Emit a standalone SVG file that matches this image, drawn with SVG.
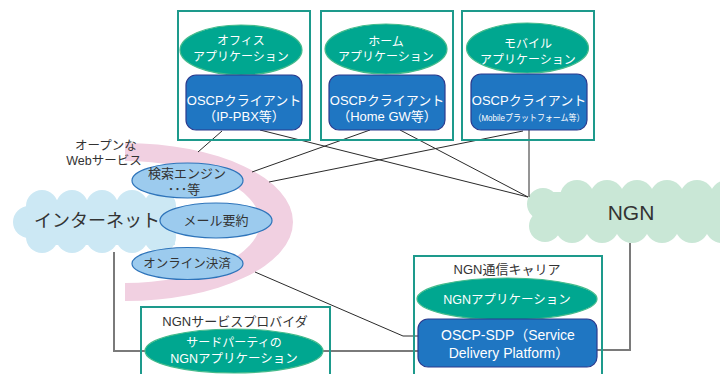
<svg xmlns="http://www.w3.org/2000/svg" width="720" height="374" viewBox="0 0 720 374">
<style>
text{font-family:"Liberation Sans","Noto Sans CJK JP",sans-serif;text-anchor:middle}
.frame{fill:none;stroke:#1d9a8c;stroke-width:2}
.app{fill:#00a790;stroke:#45bb8c;stroke-width:1.2}
.cli{fill:#1f76c2;stroke:#2b3b8e;stroke-width:1.2}
.svc{fill:#9ccbee;stroke:#2e74ba;stroke-width:1.2}
.w{fill:#ffffff}
.d{fill:#333333}
.ln{fill:none;stroke:#2a2a2a;stroke-width:1}
.gl{fill:none;stroke:#7a7a7a;stroke-width:2}
.inet{fill:#cce8f4}
.ngn{fill:#c9e7d6}
</style>
<rect width="720" height="374" fill="#ffffff"/>

<g id="internet">
<g class="inet">
<circle cx="29" cy="222" r="16"/>
<circle cx="42" cy="206" r="16"/><circle cx="72" cy="206" r="16"/><circle cx="102" cy="206" r="16"/><circle cx="132" cy="206" r="16"/><circle cx="160" cy="206" r="16"/>
<circle cx="42" cy="237" r="16"/><circle cx="72" cy="237" r="16"/><circle cx="102" cy="237" r="16"/><circle cx="132" cy="237" r="16"/><circle cx="160" cy="237" r="16"/>
<rect x="30" y="200" width="145" height="45"/>
</g>
</g>

<g id="open-web-band">
<path d="M125,143 A168,79 0 0 1 125,301 L125,283 A135,61 0 0 0 125,161 Z" fill="#f1d0e1"/>
</g>

<g id="ngn">
<g class="ngn">
<circle cx="543" cy="204" r="16"/><circle cx="545" cy="226" r="16"/>
<circle cx="577" cy="197" r="17"/><circle cx="607" cy="197" r="17"/><circle cx="637" cy="197" r="17"/><circle cx="667" cy="197" r="17"/><circle cx="697" cy="197" r="17"/><circle cx="727" cy="197" r="17"/>
<circle cx="572" cy="226" r="17"/><circle cx="602" cy="226" r="17"/><circle cx="632" cy="226" r="17"/><circle cx="662" cy="226" r="17"/><circle cx="692" cy="226" r="17"/><circle cx="722" cy="226" r="17"/>
<rect x="543" y="192" width="180" height="38"/>
</g>
<text x="631" y="220" font-size="21" class="d">NGN</text>
</g>

<g id="connectors">
<polyline class="ln" points="222,131 198,152"/>
<polyline class="ln" points="260,130 528,197"/>
<polyline class="ln" points="370,130 252,172"/>
<polyline class="ln" points="400,130 528,197"/>
<polyline class="ln" points="523,131 269,182"/>
<polyline class="ln" points="529,130 529,197"/>
<polyline class="ln" points="255,272 403,336 418,336"/>
<polyline class="gl" points="114,252 114,351 418,351"/>
<polyline class="gl" points="630,243 630,350 597,350"/>
</g>

<text x="97" y="227" font-size="18" class="d">インターネット</text>

<g id="open-web-label">
<text x="106" y="150" font-size="12.5" class="d">オープンな</text>
<text x="104" y="165" font-size="12.5" class="d">Webサービス</text>
</g>

<g id="search">
<ellipse class="svc" cx="187.5" cy="180.5" rx="55.5" ry="17.5"/>
<text x="187" y="178" font-size="13" class="d">検索エンジン</text>
<text x="184" y="194" font-size="13" class="d">･･･等</text>
</g>
<g id="mail">
<ellipse class="svc" cx="216" cy="220.5" rx="56" ry="17.5"/>
<text x="216" y="225" font-size="13" class="d">メール要約</text>
</g>
<g id="payment">
<ellipse class="svc" cx="187.5" cy="263.5" rx="55.5" ry="16"/>
<text x="187" y="268" font-size="12.5" class="d">オンライン決済</text>
</g>

<g id="office">
<rect class="frame" x="178" y="11" width="132" height="129"/>
<ellipse class="app" cx="241" cy="50" rx="61" ry="25"/>
<text x="241" y="45" font-size="12" class="w">オフィス</text>
<text x="241" y="61" font-size="12" class="w">アプリケーション</text>
<rect class="cli" x="186" y="75" width="116" height="55" rx="10"/>
<text x="244" y="105" font-size="13" class="w">OSCPクライアント</text>
<text x="244" y="121" font-size="13" class="w">（IP-PBX等）</text>
</g>

<g id="home">
<rect class="frame" x="321" y="11" width="132" height="129"/>
<ellipse class="app" cx="386" cy="49" rx="61" ry="25"/>
<text x="386" y="46" font-size="12" class="w">ホーム</text>
<text x="386" y="61" font-size="12" class="w">アプリケーション</text>
<rect class="cli" x="329" y="75" width="116" height="55" rx="10"/>
<text x="387" y="105" font-size="13" class="w">OSCPクライアント</text>
<text x="387" y="121" font-size="13" class="w">（Home GW等）</text>
</g>

<g id="mobile">
<rect class="frame" x="462" y="11" width="132" height="129"/>
<ellipse class="app" cx="527.5" cy="48" rx="61" ry="25"/>
<text x="528" y="48" font-size="12" class="w">モバイル</text>
<text x="528" y="64" font-size="12" class="w">アプリケーション</text>
<rect class="cli" x="471" y="74" width="116" height="56" rx="10"/>
<text x="529" y="105" font-size="13" class="w">OSCPクライアント</text>
<text x="529" y="121" font-size="9" class="w" textLength="111" lengthAdjust="spacingAndGlyphs">（Mobileプラットフォーム等）</text>
</g>

<g id="carrier">
<rect class="frame" x="414" y="256" width="188" height="130"/>
<text x="507" y="274" font-size="13" class="d">NGN通信キャリア</text>
<ellipse class="app" cx="507" cy="299" rx="90" ry="21"/>
<text x="507" y="304" font-size="12.5" class="w">NGNアプリケーション</text>
</g>
<g id="sdp">
<rect class="cli" x="418" y="319" width="179" height="48" rx="10"/>
<text x="508" y="340" font-size="14" class="w">OSCP-SDP（Service</text>
<text x="509" y="358" font-size="14" class="w">Delivery Platform）</text>
</g>

<g id="provider">
<rect class="frame" x="141" y="307" width="189" height="80"/>
<text x="235" y="326" font-size="13" class="d">NGNサービスプロバイダ</text>
<ellipse class="app" cx="234" cy="351" rx="89" ry="22"/>
<text x="234" y="347" font-size="12" class="w">サードパーティの</text>
<text x="234" y="363" font-size="12.5" class="w">NGNアプリケーション</text>
</g>
</svg>
